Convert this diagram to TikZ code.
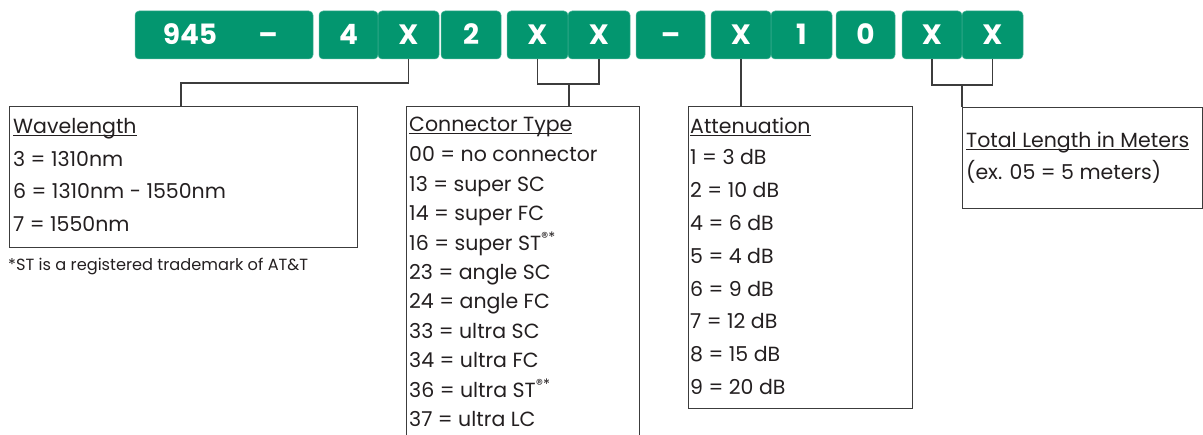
\documentclass[tikz,border=0pt]{standalone}
\usepackage{fontspec}
\setmainfont{Poppins}[Numbers=Monospaced]
\definecolor{brand}{HTML}{03966F}
\definecolor{ink}{HTML}{231F20}
\definecolor{wire}{HTML}{3C3C3C}
\newcommand\ulhead[1]{\setbox0\hbox{#1}\rlap{\rule[-2.4pt]{\wd0}{0.9pt}}\box0}
\begin{document}
\begin{tikzpicture}[x=1pt,y=-1pt,
  seg/.style={rounded corners=4pt, fill=brand, draw=brand!70!white, line width=0.5pt,
    inner sep=0, text=white, font=\fontsize{28}{28}\selectfont\bfseries,
    text height=20pt, text depth=0pt, minimum height=48pt},
  segtxt/.style={inner sep=0, text=white, font=\fontsize{28}{28}\selectfont\bfseries,
    text height=20pt, text depth=0pt},
  frame/.style={draw=wire, line width=1.1pt, inner sep=0, anchor=north west},
  lbl/.style={anchor=base west, inner sep=0, text=ink, font=\fontsize{20.5}{20.5}\selectfont},
  note/.style={anchor=base west, inner sep=0, text=ink, font=\fontsize{16.2}{16.2}\selectfont},
  wireline/.style={draw=wire, line width=1.1pt}]
\useasboundingbox (0,0) rectangle (1203,435);

% code segments
\node[seg, minimum width=178pt] (s1) at (224,35) {};
\node[segtxt] (t945) at (190,35) {945};
\node[segtxt] (tdash) at (268,35) {–};
\foreach \n/\xa/\xb/\t in {s2/319/378/4, s3/378/439/X, s4/441/501/2, s5/507/568/X,
    s6/568/630/X, s7/636/705/–, s8/711/771/X, s9/771/832/1, s10/836/895/0,
    s11/902/962/X, s12/962/1023/X}{
  \pgfmathsetmacro\w{\xb-\xa}
  \pgfmathsetmacro\c{(\xa+\xb)/2}
  \node[seg, minimum width=\w pt] (\n) at (\c,35) {\t};
}

% frames
\node[frame, minimum width=348pt, minimum height=141pt] (wl) at (9,106) {};
\node[frame, minimum width=233pt, minimum height=336pt] (ct) at (406,106) {};
\node[frame, minimum width=224pt, minimum height=302pt] (att) at (688,106) {};
\node[frame, minimum width=240pt, minimum height=101pt] (tl) at (962,107) {};

% wires
\coordinate (j1) at (181,83);
\coordinate (j2) at (569,84);
\coordinate (j3) at (962,85);
\draw[wireline] (s3.south) |- (j1) -- (j1 |- wl.north);
\draw[wireline] (s5.south) |- (j2) -| (s6.south);
\draw[wireline] (j2) -- (j2 |- ct.north);
\draw[wireline] (s8.south) -- (s8.south |- att.north);
\draw[wireline] (s11.south) |- (j3) -| (s12.south);
\draw[wireline] (j3) -- (tl.north west);

% wavelength
\node[lbl] (wlh) at (13,134) {\ulhead{Wavelength}};
\foreach \t [count=\i] in {3 = 1310nm, 6 = 1310nm - 1550nm, 7 = 1550nm}{
  \node[lbl] (wl\i) at (13,{134+32.4*\i}) {\t};
}
\node[note] (fn) at (8,271) {*ST is a registered trademark of AT\&T};

% connector type
\node[lbl] (cth) at (409,132) {\ulhead{Connector Type}};
\foreach \t [count=\i] in {00 = no connector, 13 = super SC, 14 = super FC,
    16 = super ST\textsuperscript{\textregistered*}, 23 = angle SC, 24 = angle FC,
    33 = ultra SC, 34 = ultra FC, 36 = ultra ST\textsuperscript{\textregistered*},
    37 = ultra LC}{
  \node[lbl] (ct\i) at (409,{132.6+29.4*\i}) {\t};
}

% attenuation
\node[lbl] (atth) at (690,134) {\ulhead{Attenuation}};
\foreach \t [count=\i] in {1 = 3 dB, 2 = 10 dB, 4 = 6 dB, 5 = 4 dB, 6 = 9 dB,
    7 = 12 dB, 8 = 15 dB, 9 = 20 dB}{
  \node[lbl] (att\i) at (690,{132.2+32.8*\i}) {\t};
}

% total length
\node[lbl] (tlh) at (966,148) {\ulhead{Total Length in Meters}};
\node[lbl] (tl1) at (966,180) {(ex. 05 = 5 meters)};
\end{tikzpicture}
\end{document}
